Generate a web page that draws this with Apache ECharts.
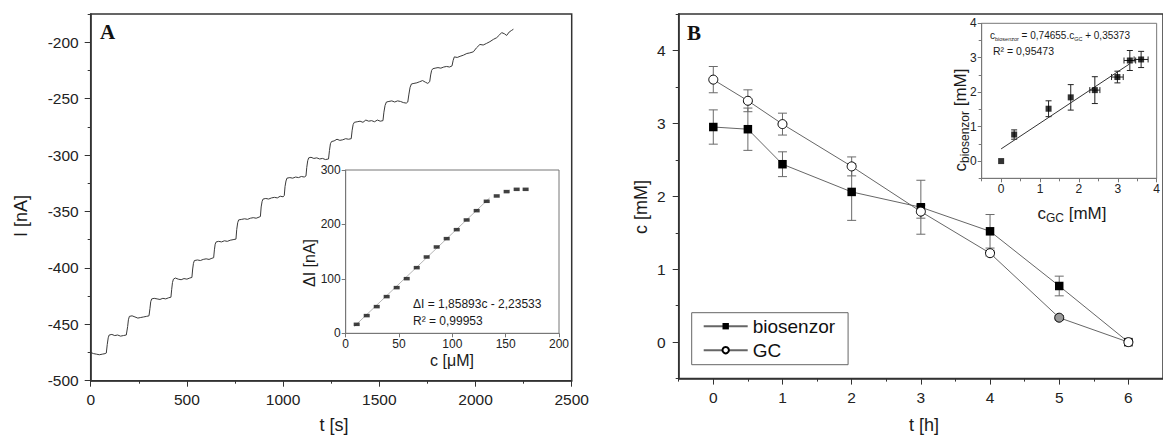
<!DOCTYPE html>
<html>
<head>
<meta charset="utf-8">
<script src="https://cdn.jsdelivr.net/npm/echarts@6/dist/echarts.min.js"></script>
<style>
html,body{margin:0;padding:0;background:#fff;}
#chart{width:1163px;height:436px;}
</style>
</head>
<body>
<div id="chart"></div>
<script>
// ---------- DATA ----------
// Panel A: amperometric trace, [t (s), I (nA)]
const traceA = [
[0,-475],[15,-476],[30,-476.5],[45,-477],[60,-476.5],[75,-476],[81,-475.5],
[86,-468],[91,-462],[96,-459.5],[110,-459],[125,-460],[140,-459.5],[155,-460.5],[170,-460],[185,-459.5],
[192,-452],[196,-446],[201,-443],[215,-442.5],[230,-443.5],[245,-444.5],[260,-444],[275,-443.5],[290,-443],[303,-442.5],
[308,-436],[312,-430],[317,-427.5],[330,-427],[345,-427.5],[360,-428],[375,-427],[390,-427.5],[405,-426.5],[417,-426],
[421,-419],[425,-413],[430,-410],[440,-409],[455,-410],[470,-410.5],[485,-409.5],[500,-410],[515,-409],[526,-408.5],
[530,-401],[534,-396],[539,-393.5],[555,-393],[570,-393.5],[585,-392.5],[600,-392],[615,-392.5],[630,-391.5],[639,-391],
[643,-384],[647,-379],[652,-377],[665,-376.5],[680,-377],[695,-376],[710,-376.5],[725,-375.5],[740,-375],[755,-374.5],
[759,-366],[764,-360],[769,-357.5],[785,-357],[800,-356.5],[815,-357],[830,-356],[845,-355.5],[860,-356],[875,-355],[882,-354.5],
[886,-346],[891,-341],[896,-339],[910,-338.5],[925,-339],[940,-338],[955,-337.5],[970,-338],[985,-336.5],[1000,-337],[1006,-336],
[1010,-328],[1015,-323],[1020,-320.5],[1035,-320],[1050,-320.5],[1065,-319.5],[1080,-320],[1095,-319],[1110,-319.5],[1119,-318.5],
[1123,-311],[1128,-305],[1133,-302.5],[1145,-302],[1160,-303],[1175,-302.5],[1190,-303.5],[1205,-303],[1220,-304],[1236,-303.5],
[1241,-296],[1246,-290],[1252,-288],[1265,-287.5],[1280,-286],[1295,-287],[1310,-286.5],[1325,-285.5],[1340,-286],[1354,-285.5],
[1359,-278],[1364,-273],[1370,-271],[1385,-270.5],[1400,-270],[1415,-271],[1430,-269],[1445,-270],[1460,-269.5],[1475,-270.5],[1490,-269],[1505,-270],[1519,-269.5],
[1524,-262],[1530,-256],[1537,-253],[1550,-252.5],[1565,-252],[1580,-253],[1595,-252],[1610,-252.5],[1625,-253.5],[1640,-254],[1648,-253],
[1654,-246],[1660,-240],[1667,-237],[1680,-236.5],[1695,-236],[1710,-235],[1725,-234],[1740,-235.5],[1752,-236.5],[1762,-235],
[1767,-229],[1772,-225],[1778,-223.5],[1790,-223],[1805,-222.5],[1820,-223],[1835,-222],[1850,-221.5],[1865,-222],[1878,-221],
[1884,-216],[1890,-213],[1905,-213.5],[1920,-212.5],[1937,-211.5],[1955,-210],[1970,-209.5],[1989,-208.5],[2005,-205],[2023,-202],
[2040,-202.5],[2058,-201],[2075,-199.5],[2093,-197.5],[2110,-196],[2125,-193.5],[2136,-191.5],[2150,-192.5],[2162,-194],[2175,-191],[2188,-189.5],[2197,-188.5]
];
// Panel A inset: calibration
const concA = [10.3, 19.7, 29.1, 38.4, 47.8, 57.2, 66.6, 75.9, 85.3, 94.7, 104.1, 113.4, 122.8, 132.2, 141.6, 150.9, 160.3, 168.7];
const deltaIA = [16.5, 32.5, 49, 67.4, 83.9, 100.4, 120.6, 140.2, 158.6, 173.9, 190.4, 208.2, 225.3, 242.5, 252.3, 260.3, 264.5, 264.5];
const fitA = [[8, 12.6], [135, 248.7]];
// Panel B: time course
const hoursB = [0, 0.5, 1, 2, 3, 4, 5, 6];
const bioB = [2.95, 2.92, 2.44, 2.06, 1.85, 1.52, 0.77, 0.0];
const bioErrB = [0.235, 0.29, 0.17, 0.39, 0.37, 0.23, 0.135, 0];
const gcB = [3.60, 3.31, 2.99, 2.41, 1.79, 1.22, 0.335, 0.0];
const gcErrB = [0.18, 0.15, 0.15, 0.13, 0.09, 0.04, 0.03, 0];
const fitB = [[0, 0.354], [3.3, 2.818]];
// Tick values
const ticksAx = [0, 500, 1000, 1500, 2000, 2500];
const minorAx = [250, 750, 1250, 1750, 2250];
const ticksAy = [-500, -450, -400, -350, -300, -250, -200];
const minorAy = [-475, -425, -375, -325, -275, -225, -175];
const ticksBx = [0, 1, 2, 3, 4, 5, 6];
const minorBx = [-0.5, 0.5, 1.5, 2.5, 3.5, 4.5, 5.5, 6.5];
const ticksBy = [0, 1, 2, 3, 4];
const minorBy = [-0.5, 0.5, 1.5, 2.5, 3.5, 4.5];
const ticksInB = [0, 1, 2, 3, 4];
const minorInB = [-0.5, 0.5, 1.5, 2.5, 3.5];

// ---------- CHART ----------
const SANS = '"Liberation Sans", Arial, sans-serif';
const SERIF = '"Liberation Serif", "Times New Roman", serif';
const dark = '#333';

function axisBase(gridIndex, min, max, interval, opts) {
  const o = {
    gridIndex, type: 'value', min, max, interval,
    axisLine: { show: true, onZero: false, lineStyle: { color: opts.lineColor || dark, width: opts.lineWidth || 1.5 } },
    axisTick: { show: true, inside: false, length: opts.tickLen || 6, lineStyle: { color: opts.lineColor || dark, width: 1 } },
    axisLabel: { show: true, fontSize: opts.fontSize || 15.5, color: '#222', fontFamily: SANS, margin: opts.margin || 10,
                 formatter: v => String(v) },
    splitLine: { show: false },
    z: 5
  };
  if (opts.tickValues) { o.axisTick.customValues = opts.tickValues; o.axisLabel.customValues = opts.tickValues; }
  if (opts.position) o.position = opts.position;
  return o;
}
function minorAxis(gridIndex, min, max, values, position, color) {
  return {
    gridIndex, type: 'value', min, max, position,
    axisLine: { show: false, onZero: false }, axisLabel: { show: false }, splitLine: { show: false },
    axisTick: { show: true, inside: false, length: 3, customValues: values, lineStyle: { color: color || dark, width: 1 } },
    z: 5
  };
}

function errRender(params, api) {
  const x = api.value(0), y = api.value(1), ey = api.value(2), ex = api.value(3);
  const cap = api.value(4);
  const children = [];
  const st = { stroke: api.value(5) === 1 ? '#222' : '#6a6a6a', lineWidth: 1 };
  if (ey > 0) {
    const a = api.coord([x, y + ey]), b = api.coord([x, y - ey]);
    children.push({ type: 'line', shape: { x1: a[0], y1: a[1], x2: b[0], y2: b[1] }, style: st });
    children.push({ type: 'line', shape: { x1: a[0] - cap, y1: a[1], x2: a[0] + cap, y2: a[1] }, style: st });
    children.push({ type: 'line', shape: { x1: b[0] - cap, y1: b[1], x2: b[0] + cap, y2: b[1] }, style: st });
  }
  if (ex > 0) {
    const a = api.coord([x - ex, y]), b = api.coord([x + ex, y]);
    children.push({ type: 'line', shape: { x1: a[0], y1: a[1], x2: b[0], y2: b[1] }, style: st });
    children.push({ type: 'line', shape: { x1: a[0], y1: a[1] - cap, x2: a[0], y2: a[1] + cap }, style: st });
    children.push({ type: 'line', shape: { x1: b[0], y1: b[1] - cap, x2: b[0], y2: b[1] + cap }, style: st });
  }
  return { type: 'group', children };
}

const errMain = [];
hoursB.forEach((h, i) => { errMain.push([h, bioB[i], bioErrB[i], 0, 4.5, 0]); });
hoursB.forEach((h, i) => { errMain.push([h, gcB[i], gcErrB[i], 0, 4.5, 0]); });
const errInset = hoursB.map((h, i) => [gcB[i], bioB[i], bioErrB[i], i <= 3 ? gcErrB[i] : 0, 3, 1]);

function txt(x, y, text, size, opts) {
  opts = opts || {};
  return {
    type: 'text', x, y, rotation: opts.rot || 0, z: 100,
    style: {
      text, fontSize: size, fontFamily: opts.family || SANS, fontWeight: opts.weight || 'normal',
      fill: opts.fill || '#1a1a1a', align: opts.align || 'center', verticalAlign: 'middle',
      textAlign: opts.align || 'center', textVerticalAlign: 'middle', rich: opts.rich
    }
  };
}
const subRich = (big, small) => ({
  a: { fontSize: big, lineHeight: big + 4, fontFamily: SANS, fill: '#1a1a1a', color: '#1a1a1a' },
  s: { fontSize: small, lineHeight: small, verticalAlign: 'bottom', fontFamily: SANS, fill: '#1a1a1a', color: '#1a1a1a' }
});

const option = {
  animation: false,
  backgroundColor: '#fff',
  grid: [
    { left: 90.7, top: 14, width: 481, height: 366.7, show: true, borderColor: dark, borderWidth: 1.5, backgroundColor: 'transparent' },
    { left: 345.7, top: 170, width: 213.3, height: 163.3, show: true, borderColor: '#777', borderWidth: 1, backgroundColor: '#fff', z: 3 },
    { left: 678.7, top: 14, width: 493.5, height: 364.6, show: true, borderColor: dark, borderWidth: 1.5, backgroundColor: 'transparent' },
    { left: 981.7, top: 23.3, width: 181.3, height: 155, show: true, borderColor: '#777', borderWidth: 1, backgroundColor: '#fff', z: 3 }
  ],
  xAxis: [
    axisBase(0, 0, 2500, 500, { tickValues: ticksAx, margin: 11 }),
    axisBase(1, 0, 200, 50, { lineColor: '#777', lineWidth: 1, tickLen: 4, fontSize: 12, margin: 5 }),
    axisBase(2, -0.5, 6.5, 0.5, { tickValues: ticksBx, margin: 11 }),
    minorAxis(2, -0.5, 6.5, minorBx, 'bottom'),
    axisBase(3, -0.5, 4, 0.5, { tickValues: ticksInB, lineColor: '#777', lineWidth: 1, tickLen: 4, fontSize: 12, margin: 5 }),
    minorAxis(3, -0.5, 4, minorInB, 'bottom', '#777'),
    minorAxis(0, 0, 2500, minorAx, 'bottom')
  ],
  yAxis: [
    axisBase(0, -500, -175, 25, { tickValues: ticksAy, margin: 12 }),
    axisBase(1, 0, 300, 100, { lineColor: '#777', lineWidth: 1, tickLen: 4, fontSize: 12, margin: 5 }),
    axisBase(2, -0.5, 4.5, 0.5, { tickValues: ticksBy, margin: 13 }),
    minorAxis(2, -0.5, 4.5, minorBy, 'left'),
    axisBase(3, -0.5, 4, 0.5, { tickValues: ticksInB, lineColor: '#777', lineWidth: 1, tickLen: 4, fontSize: 12, margin: 5 }),
    minorAxis(3, -0.5, 4, minorInB, 'left', '#777'),
    minorAxis(0, -500, -175, minorAy, 'left')
  ],
  legend: {
    data: ['biosenzor', 'GC'],
    orient: 'vertical', left: 691.7, top: 312.7,
    padding: [4, 13, 5, 11], itemGap: 5,
    itemWidth: 44, itemHeight: 8,
    borderColor: '#666', borderWidth: 1, backgroundColor: '#fff',
    textStyle: { fontSize: 19, fontFamily: SANS, color: '#111', padding: [0, 0, 0, 0] },
    selectedMode: false
  },
  series: [
    { type: 'line', xAxisIndex: 0, yAxisIndex: 0, data: traceA, showSymbol: false, symbol: 'none',
      lineStyle: { color: '#3a3a3a', width: 1 }, z: 2 },
    { type: 'line', xAxisIndex: 1, yAxisIndex: 1, data: fitA, symbol: 'none',
      lineStyle: { color: '#b5b5b5', width: 1 }, z: 6 },
    { type: 'scatter', xAxisIndex: 1, yAxisIndex: 1, data: concA.map((c, i) => [c, deltaIA[i]]),
      symbol: 'rect', symbolSize: [6, 3.5], itemStyle: { color: '#111' }, z: 7 },
    { type: 'custom', xAxisIndex: 2, yAxisIndex: 2, data: errMain, renderItem: errRender, z: 3, silent: true },
    { type: 'line', name: 'biosenzor', xAxisIndex: 2, yAxisIndex: 2, data: hoursB.map((h, i) => [h, bioB[i]]),
      symbol: 'rect', symbolSize: 8.5, itemStyle: { color: '#000' }, lineStyle: { color: '#666', width: 1 }, z: 4 },
    { type: 'line', name: 'GC', xAxisIndex: 2, yAxisIndex: 2,
      data: hoursB.map((h, i) => i === 6 ? { value: [h, gcB[i]], itemStyle: { color: '#999' } } : [h, gcB[i]]),
      symbol: 'circle', symbolSize: 9, itemStyle: { color: '#fff', borderColor: '#000', borderWidth: 1 },
      lineStyle: { color: '#666', width: 1 }, z: 4 },
    { type: 'line', xAxisIndex: 4, yAxisIndex: 4, data: fitB, symbol: 'none',
      lineStyle: { color: '#333', width: 1 }, z: 6 },
    { type: 'custom', xAxisIndex: 4, yAxisIndex: 4, data: errInset, renderItem: errRender, z: 6, silent: true },
    { type: 'scatter', xAxisIndex: 4, yAxisIndex: 4, data: hoursB.map((h, i) => [gcB[i], bioB[i]]),
      symbol: 'rect', symbolSize: 6, itemStyle: { color: '#000' }, z: 7 }
  ],
  graphic: [
    txt(100, 32, 'A', 21, { family: SERIF, weight: 'bold', align: 'left', fill: '#111' }),
    txt(687, 33, 'B', 21, { family: SERIF, weight: 'bold', align: 'left', fill: '#111' }),
    txt(21, 216, 'I [nA]', 18, { rot: Math.PI / 2 }),
    txt(334, 425, 't [s]', 18),
    txt(641, 207, 'c [mM]', 18, { rot: Math.PI / 2 }),
    txt(924, 425, 't [h]', 18),
    txt(309, 263, 'ΔI [nA]', 16, { rot: Math.PI / 2 }),
    txt(452, 360, 'c [μM]', 16),
    txt(413, 304, 'ΔI = 1,85893c - 2,23533', 12, { align: 'left' }),
    txt(413, 321, 'R² = 0,99953', 12, { align: 'left' }),
    txt(960, 120, '{a|c}{s|biosenzor}{a| [mM]}', 17, { rot: Math.PI / 2, rich: subRich(17, 12) }),
    txt(1072, 213, '{a|c}{s|GC}{a| [mM]}', 17, { rich: subRich(17, 12) }),
    txt(990, 35, '{a|c}{s|biosenzor}{a| = 0,74655.c}{s|GC}{a| + 0,35373}', 10, { align: 'left', rich: subRich(10, 5.5) }),
    txt(993, 51, 'R² = 0,95473', 10.5, { align: 'left' })
  ]
};

const chart = echarts.init(document.getElementById('chart'), null, { renderer: 'svg', width: 1163, height: 436 });
chart.setOption(option);
</script>
</body>
</html>
